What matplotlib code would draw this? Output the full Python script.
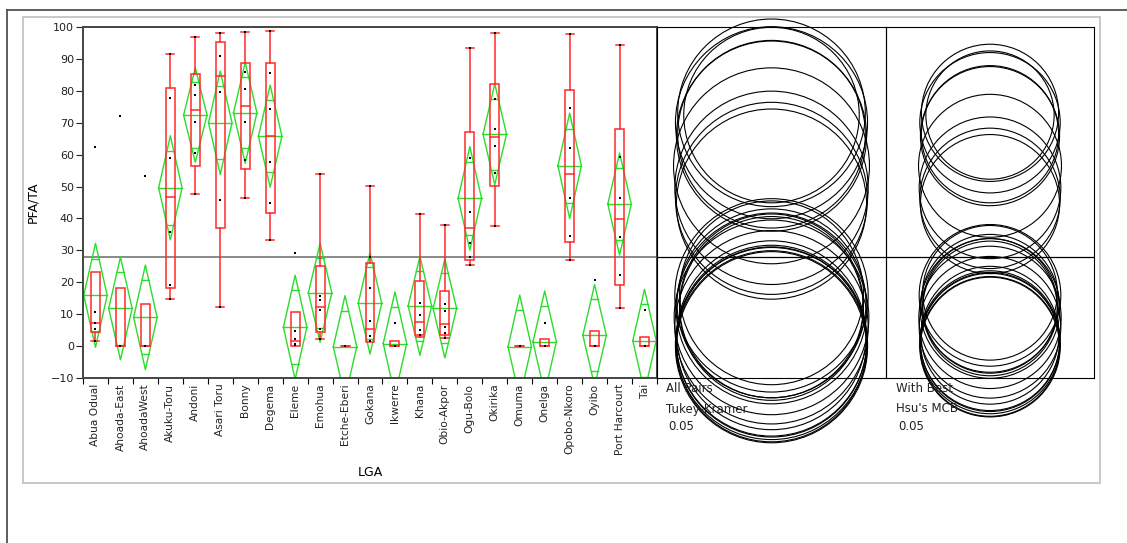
import matplotlib
matplotlib.use("Agg")
import matplotlib.pyplot as plt
from matplotlib.patches import Rectangle, Circle
from matplotlib.lines import Line2D
import numpy as np

plt.rcParams['font.family'] = ['DejaVu Sans']

# --- data ---
groups = ["Abua Odual", "Ahoada-East", "AhoadaWest", "Akuku-Toru", "Andoni", "Asari Toru",
          "Bonny", "Degema", "Eleme", "Emohua", "Etche-Eberi", "Gokana", "Ikwerre", "Khana",
          "Obio-Akpor", "Ogu-Bolo", "Okirika", "Omuma", "Onelga", "Opobo-Nkoro", "Oyibo",
          "Port Harcourt", "Tai"]

means = [15.9, 11.8, 9.0, 49.6, 72.4, 70.0, 73.1, 65.8, 5.9, 16.7, -0.2, 13.4, 0.8, 12.6,
         11.8, 46.3, 66.4, -0.2, 1.3, 56.5, 3.4, 44.5, 1.7]
ci_half = [16.3, 16.1, 16.4, 16.3, 14.8, 16.2, 15.8, 16.0, 16.3, 15.5, 16.0, 15.9, 16.2, 15.5,
           15.5, 16.2, 15.8, 16.2, 16.0, 16.5, 15.9, 16.0, 16.1]

q1 = [4.5, 0, 0, 18.1, 56.5, 36.9, 55.4, 41.6, 0, 4.5, 0, 1.2, 0, 3.4, 3.4, 27.0, 50.1, 0, 0,
      32.7, 0, 19.1, 0]
median = [7.3, 0, 0, 46.8, 74.0, 84.8, 75.2, 65.9, 1.6, 12.3, 0, 5.2, 0, 7.6, 6.9, 36.9, 65.6,
          0, 0, 53.8, 0, 39.8, 0]
q3 = [23.1, 18.3, 13.1, 80.8, 85.4, 95.4, 88.6, 88.6, 10.6, 25.2, 0, 25.9, 1.6, 20.4, 17.3,
      67.0, 82.1, 0, 2.1, 80.4, 4.8, 67.9, 2.9]
whisk_lo = [1.7, 0, 0, 14.9, 47.7, 12.3, 46.5, 33.2, 0, 2.1, 0, 1.2, 0, 3.0, 2.4, 25.4, 37.6,
            0, 0, 27.0, 0, 11.8, 0]
whisk_hi = [23.1, 18.3, 13.1, 91.4, 97.0, 98.0, 98.5, 98.6, 10.6, 53.8, 0, 50.2, 1.6, 41.3,
            37.9, 93.3, 98.2, 0, 2.1, 97.8, 4.8, 94.5, 2.9]

points = [
    [62.5, 10.7, 7.3, 5.2, 1.7],
    [72.2, 0, 0],
    [53.4, 0, 0],
    [91.4, 77.9, 58.8, 35.6, 19.1, 14.9],
    [97.0, 81.9, 78.6, 70.3, 60.4, 47.7],
    [98.0, 90.8, 79.5, 45.8, 12.3],
    [98.5, 86.0, 80.6, 70.3, 58.2, 46.5],
    [98.6, 85.6, 74.2, 57.6, 44.7, 33.2],
    [29.2, 4.8, 2.1, 0.8, 0.2],
    [53.8, 15.7, 14.4, 11.3, 5.5, 2.1],
    [0],
    [50.2, 27.8, 18.1, 7.9, 3.1, 1.6],
    [7.1, 0],
    [41.3, 13.6, 9.9, 5.0, 3.4],
    [37.9, 13.1, 11.0, 6.0, 4.2, 2.4],
    [93.3, 58.8, 42.1, 32.4, 27.8, 25.4],
    [98.2, 77.4, 68.0, 62.8, 54.3, 37.6],
    [0],
    [7.1, 0],
    [97.8, 74.7, 62.1, 46.3, 34.5, 27.0],
    [20.7, 0],
    [94.5, 59.3, 46.5, 34.1, 22.2, 11.8],
    [11.3, 0],
]

grand_mean = 28.0

tukey_radius = [30.3, 29.9, 30.5, 30.3, 27.5, 30.1, 29.4, 29.8, 30.3, 28.8, 29.8, 29.6, 30.1,
                28.8, 28.8, 30.1, 29.4, 30.1, 29.8, 30.7, 29.6, 29.8, 29.9]
hsu_radius = [22.2, 21.9, 22.3, 22.2, 20.1, 22.0, 21.5, 21.8, 22.2, 21.1, 21.8, 21.6, 22.0,
              21.1, 21.1, 22.0, 21.5, 22.0, 21.8, 22.4, 21.6, 21.8, 21.9]

yticks = list(range(-10, 101, 10))

# --- layout (pixel based) ---
W, H = 1127, 543
fig = plt.figure(figsize=(W / 100, H / 100), dpi=100)


def px_rect(x0, y0, x1, y1):
    return [x0 / W, 1 - y1 / H, (x1 - x0) / W, (y1 - y0) / H]


Y0, Y1 = 27, 378
ax = fig.add_axes(px_rect(83, Y0, 657, Y1))
ax_tk = fig.add_axes(px_rect(657, Y0, 886, Y1))
ax_hsu = fig.add_axes(px_rect(886, Y0, 1094, Y1))

YMIN, YMAX = -10, 100
unit_per_px = (YMAX - YMIN) / (Y1 - Y0)

RED = "#ff2a2a"
GREEN = "#2add2a"

n = len(groups)
box_w = 0.36
cap_w = 0.32
dia_w = 0.47
for i in range(n):
    c = i + 0.5
    # mean diamond with overlap marks
    m, h = means[i], ci_half[i]
    ax.plot([c - dia_w, c, c + dia_w, c, c - dia_w], [m, m + h, m, m - h, m],
            color=GREEN, lw=1.0, zorder=2)
    ax.plot([c - dia_w, c + dia_w], [m, m], color=GREEN, lw=1.0, zorder=2)
    ow = dia_w * (1 - 1 / np.sqrt(2))
    for s in (1, -1):
        ax.plot([c - ow, c + ow], [m + s * h / np.sqrt(2)] * 2, color=GREEN, lw=1.0, zorder=2)
    # box plot
    ax.add_patch(Rectangle((c - box_w / 2, q1[i]), box_w, q3[i] - q1[i], fill=False,
                           edgecolor=RED, lw=1.1, zorder=3))
    ax.plot([c - box_w / 2, c + box_w / 2], [median[i]] * 2, color=RED, lw=1.1, zorder=3)
    ax.plot([c, c], [q3[i], whisk_hi[i]], color=RED, lw=1.1, zorder=3)
    ax.plot([c, c], [whisk_lo[i], q1[i]], color=RED, lw=1.1, zorder=3)
    if whisk_hi[i] > q3[i]:
        ax.plot([c - cap_w / 2, c + cap_w / 2], [whisk_hi[i]] * 2, color=RED, lw=1.1, zorder=3)
    if whisk_lo[i] < q1[i]:
        ax.plot([c - cap_w / 2, c + cap_w / 2], [whisk_lo[i]] * 2, color=RED, lw=1.1, zorder=3)
    # data points
    ax.scatter([c] * len(points[i]), points[i], marker="s", s=3.5, color="black",
               linewidths=0, zorder=4)

ax.axhline(grand_mean, color="#808080", lw=1.3, zorder=1)
ax.set_xlim(0, n)
ax.set_ylim(YMIN, YMAX)
ax.set_yticks(yticks)
ax.tick_params(axis="y", labelsize=8, length=5, width=0.8, pad=1.5, colors="#222222")
ax.set_xticks([i + 0.5 for i in range(n)])
ax.set_xticklabels(groups, rotation=90, fontsize=7.7, color="#222222")
ax.tick_params(axis="x", length=0, pad=4)
ax.set_xticks(range(n + 1), minor=True)
ax.tick_params(axis="x", which="minor", length=4, width=0.8)
for side in ("left", "top", "bottom", "right"):
    ax.spines[side].set_color("#444444")
    ax.spines[side].set_linewidth(1.4)
ax.set_ylabel("PFA/TA", fontsize=9, labelpad=8)
ax.set_xlabel("LGA", fontsize=9, labelpad=8)

# comparison circles
for a, radii, half_px in ((ax_tk, tukey_radius, 229 / 2), (ax_hsu, hsu_radius, 208 / 2)):
    hx = half_px * unit_per_px
    a.set_xlim(-hx, hx)
    a.set_ylim(YMIN, YMAX)
    a.set_xticks([])
    a.set_yticks([])
    for sp in a.spines.values():
        sp.set_color("black")
        sp.set_linewidth(0.8)
    a.axhline(grand_mean, color="black", lw=0.9)
    for m, r in zip(means, radii):
        a.add_patch(Circle((0, m), r, fill=False, edgecolor="black", lw=0.8, clip_on=False,
                           zorder=5))
    a.set_facecolor("none")

txt = dict(fontsize=8.5, color="#222222", va="center", ha="left")
fig.text(666 / W, 1 - 389 / H, "All Pairs", **txt)
fig.text(666 / W, 1 - 409 / H, "Tukey-Kramer", **txt)
fig.text(668 / W, 1 - 427 / H, "0.05", **txt)
fig.text(896 / W, 1 - 389 / H, "With Best", **txt)
fig.text(896 / W, 1 - 409 / H, "Hsu's MCB", **txt)
fig.text(898 / W, 1 - 427 / H, "0.05", **txt)

# frames around the report
fig.add_artist(Rectangle((23 / W, 1 - 483 / H), (1100 - 23) / W, (483 - 17) / H,
                         transform=fig.transFigure, fill=False, edgecolor="#c8c8c8", lw=1.4,
                         zorder=0))
fig.add_artist(Line2D([7 / W, 1], [1 - 10 / H] * 2, transform=fig.transFigure,
                      color="#505050", lw=1.3))
fig.add_artist(Line2D([7 / W] * 2, [1 - 10 / H, 0], transform=fig.transFigure,
                      color="#505050", lw=1.3))

fig.savefig("out.png", dpi=100)
